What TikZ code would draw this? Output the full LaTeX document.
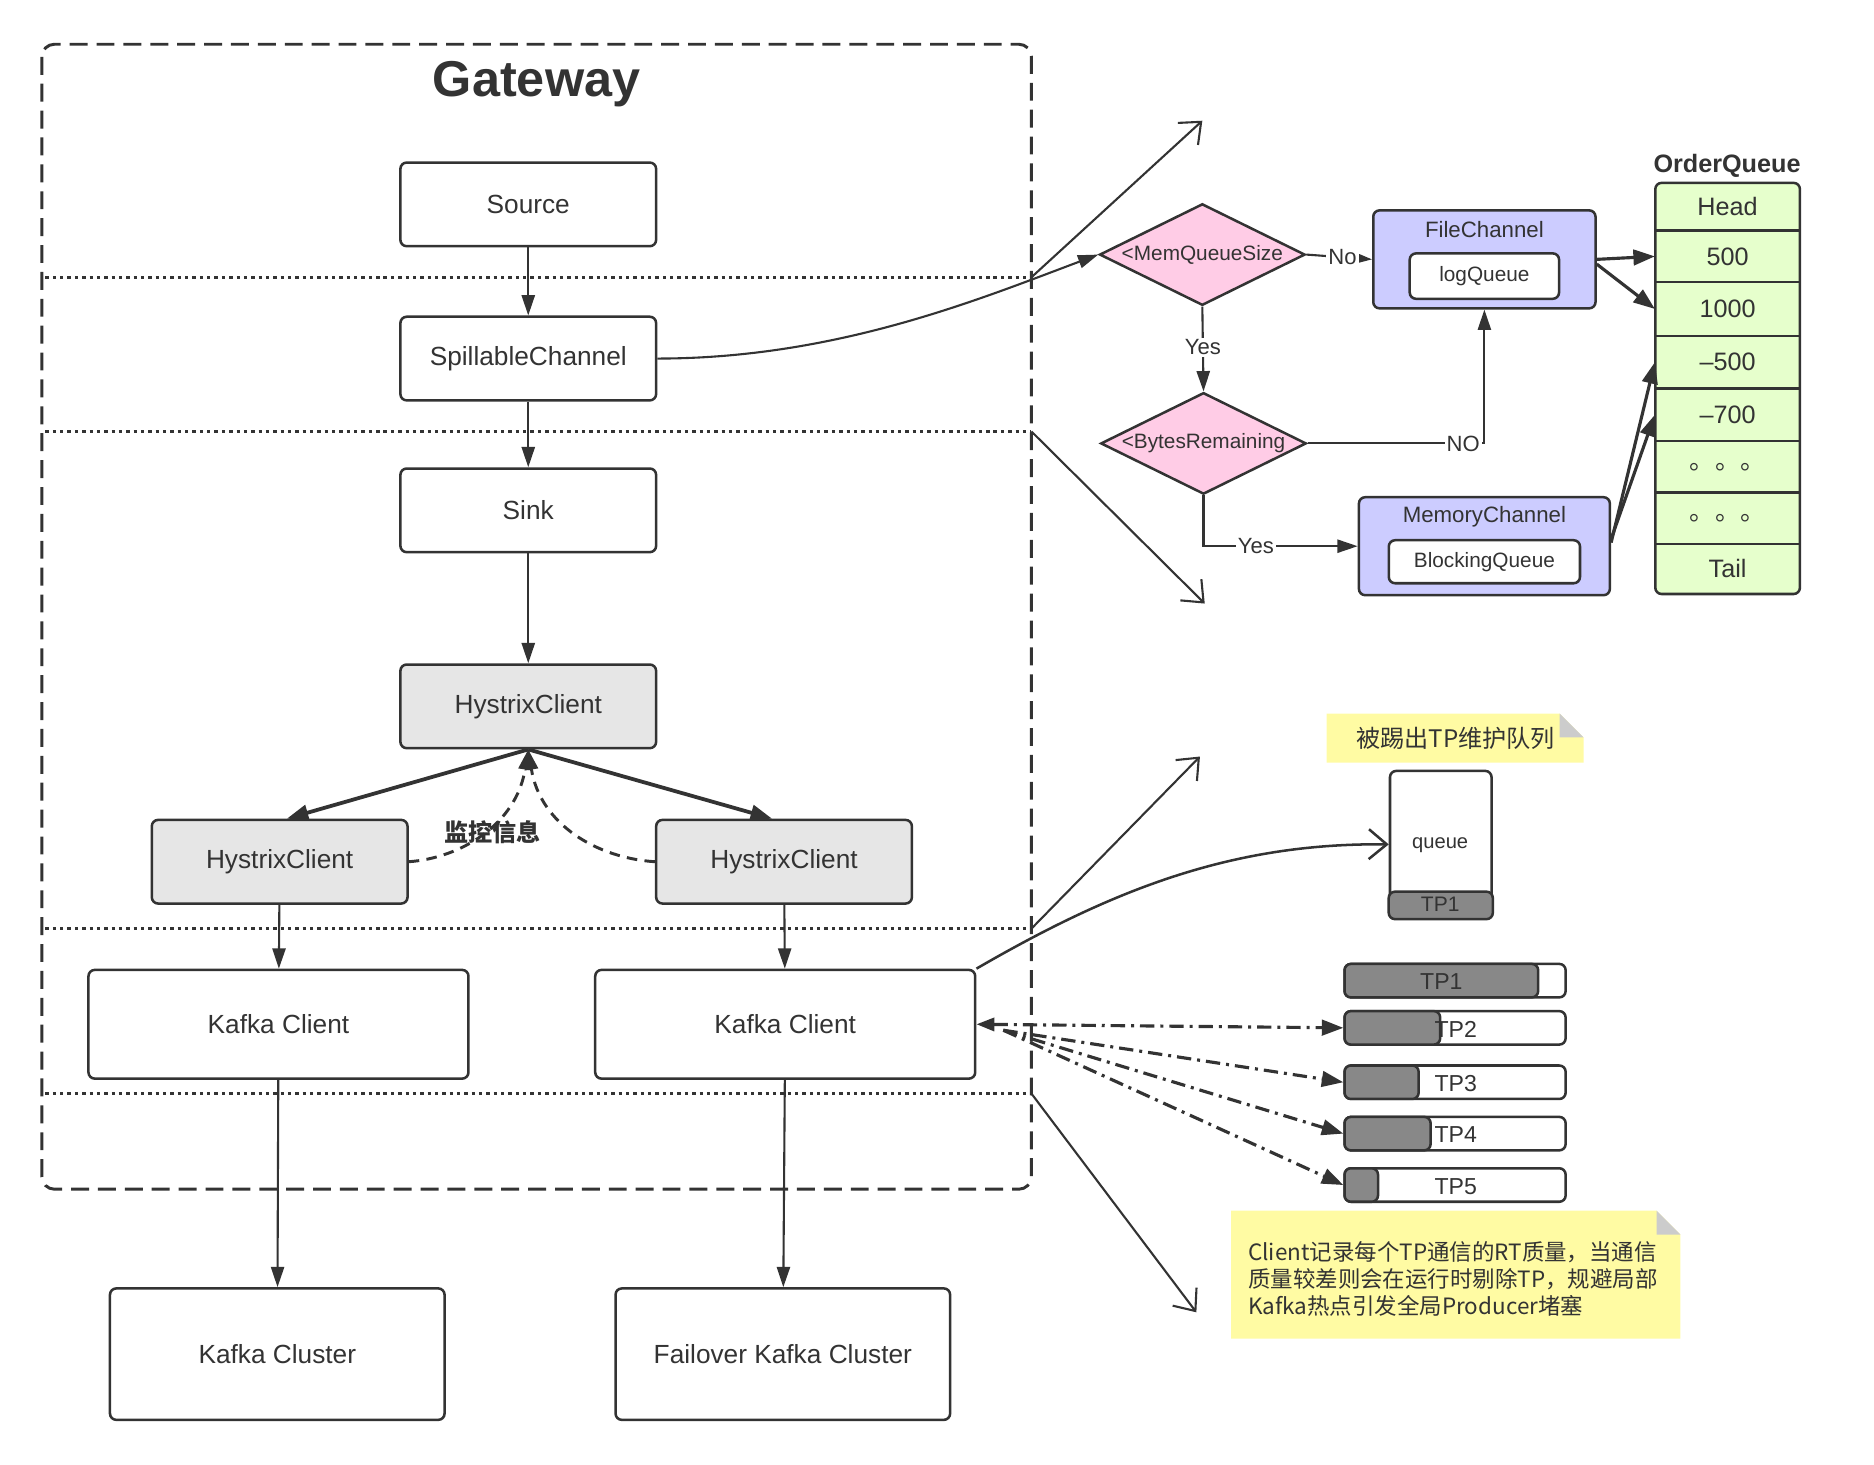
\documentclass[tikz,border=0pt]{standalone}
\usepackage{fontspec}
\setmainfont{Liberation Sans}
\newfontfamily\cjk{Noto Sans CJK SC}
\usetikzlibrary{shapes.geometric,arrows.meta}

\definecolor{linec}{HTML}{333333}
\definecolor{txtc}{HTML}{333333}
\definecolor{hygray}{HTML}{E6E6E6}
\definecolor{chanblue}{HTML}{CCCCFF}
\definecolor{diampink}{HTML}{FFCCE6}
\definecolor{qgreen}{HTML}{E6FFCC}
\definecolor{notey}{HTML}{FFFBA3}
\definecolor{foldgray}{HTML}{CCCCCC}
\definecolor{tpgray}{HTML}{888888}

\newcommand{\fsz}[1]{\fontsize{#1}{#1}\selectfont}
% yellow note with a folded corner, corners given in picture units
\newcommand{\notebox}[4]{%
  \fill[notey] (#1,#2) -- ({#3-20},#2) -- (#3,{#2+20}) -- (#3,#4) -- (#1,#4) -- cycle;
  \fill[foldgray] ({#3-20},#2) -- (#3,{#2+20}) -- ({#3-20},{#2+20}) -- cycle;}

\tikzset{
  box/.style={draw=linec, line width=1.2pt, rounded corners=3pt, fill=white, text=txtc,
    font=\fsz{12.5}, minimum width=4.28cm, minimum height=1.4cm, inner sep=0pt},
  hybox/.style={box, fill=hygray},
  kbox/.style={box, minimum width=6.36cm, minimum height=1.82cm},
  clbox/.style={box, minimum width=5.6cm, minimum height=2.2cm},
  arr/.style={draw=linec, line width=1pt, -{Triangle[length=0.34cm,width=0.22cm]}},
  fatarr/.style={draw=linec, line width=1.8pt, -{Triangle[length=0.36cm,width=0.26cm]}},
  zoomarr/.style={draw=linec, line width=1pt, -{Straight Barb[length=0.3cm,width=0.5cm]}},
  cond/.style={diamond, draw=linec, line width=1.2pt, fill=diampink, minimum width=3.44cm,
    minimum height=1.7cm, inner sep=0pt},
  condtxt/.style={text=txtc, font=\fsz{9.9}, inner sep=0pt},
  chan/.style={draw=linec, line width=1.2pt, rounded corners=3pt, fill=chanblue,
    minimum width=3.72cm, minimum height=1.64cm},
  chantitle/.style={text=txtc, font=\fsz{10.6}, inner sep=0pt},
  inbox/.style={draw=linec, line width=1.2pt, rounded corners=3pt, fill=white, text=txtc,
    font=\fsz{9.9}, minimum width=2.5cm, minimum height=0.76cm, inner sep=0pt},
  lbl/.style={fill=white, text=txtc, font=\fsz{10.5}, inner sep=1pt},
  cell/.style={text=txtc, font=\fsz{12}, minimum width=2.42cm, inner sep=0pt},
  tpbar/.style={draw=linec, line width=1.2pt, rounded corners=3pt, fill=white,
    minimum width=3.7cm, minimum height=0.56cm, inner sep=0pt},
  tpfill/.style={draw=linec, line width=1.2pt, rounded corners=3pt, fill=tpgray},
  tptxt/.style={text=txtc, font=\fsz{11}, inner sep=0pt},
  ddarr/.style={draw=linec, line width=1.5pt, dash pattern=on 0.24cm off 0.1cm on 0.05cm off 0.1cm,
    -{Triangle[length=0.36cm,width=0.26cm]}},
  mondash/.style={arr, line width=1.4pt, dash pattern=on 5pt off 3.5pt},
  gw/.style={draw=linec, line width=1.4pt, dash pattern=on 0.3cm off 0.15cm, rounded corners=6pt},
  sep/.style={draw=linec, line width=1.2pt, dash pattern=on 1.6pt off 1.9pt},
}

\begin{document}
\begin{tikzpicture}[x=0.02cm, y=-0.02cm]
\useasboundingbox (0,0) rectangle (1568,1225);

% gateway frame
\draw[gw] (35,37) rectangle (863,995);
\node[text=txtc, font=\bfseries\fsz{24}, anchor=base] (title) at (449,81) {Gateway};
\foreach \y in {232,361,777,915}
  \draw[sep] (38,\y) -- (863,\y);

\node[box] (src) at (442,171) {Source};
\node[box] (spill) at (442,300) {SpillableChannel};
\node[box] (sink) at (442,427) {Sink};
\node[hybox] (hyt) at (442,591) {HystrixClient};
\node[hybox] (hyl) at (234,721) {HystrixClient};
\node[hybox] (hyr) at (656,721) {HystrixClient};
\node[kbox] (kcl) at (233,857) {Kafka Client};
\node[kbox] (kcr) at (657,857) {Kafka Client};
\node[clbox] (kcluster) at (232,1133) {Kafka Cluster};
\node[clbox] (fkcluster) at (655,1133) {Failover Kafka Cluster};

\draw[arr] (src) -- (spill);
\draw[arr] (spill) -- (sink);
\draw[arr] (sink) -- (hyt);
\draw[fatarr] (hyt.south) -- ([xshift=0.12cm]hyl.north);
\draw[fatarr] (hyt.south) -- ([xshift=-0.2cm]hyr.north);
\draw[mondash] (hyl.east) .. controls (385,718) and (432,690) .. (hyt.south);
\draw[mondash] (hyr.west) .. controls (500,718) and (452,690) .. (hyt.south);
\node[text=txtc, font=\cjk\bfseries\fsz{11.5}] (mon) at (412,696) {监控信息};
\draw[arr] (hyl) -- (kcl);
\draw[arr] (hyr) -- (kcr);
\draw[arr] (kcl) -- (kcluster);
\draw[arr] (kcr) -- (fkcluster);

% zoom arrows
\coordinate (z1s) at (863,232);  \coordinate (z1e) at (1006,101);
\coordinate (z2s) at (863,361);  \coordinate (z2e) at (1008,505);
\coordinate (z3s) at (863,777);  \coordinate (z3e) at (1004,633);
\coordinate (z4s) at (863,915);  \coordinate (z4e) at (1001,1098);
\foreach \i in {1,...,4}
  \draw[zoomarr] (z\i s) -- (z\i e);

% channel selection
\node[cond] (mem) at (1006,213) {};
\node[condtxt] at (mem) {<MemQueueSize};
\node[cond] (bytes) at (1007,371) {};
\node[condtxt] at (bytes) {<BytesRemaining};
\node[chan] (fc) at (1242,217) {};
\node[chantitle] at (1242,192) {FileChannel};
\node[inbox] (logq) at (1242,231) {logQueue};
\node[chan, minimum width=4.2cm] (mc) at (1242,457) {};
\node[chantitle] at (1242,432) {MemoryChannel};
\node[inbox, minimum width=3.2cm, minimum height=0.72cm] (blq) at (1242,470) {BlockingQueue};

\draw[arr] (spill.east) .. controls (700,300) and (820,250) .. (mem.west);
\draw[arr] (mem.east) -- node[lbl, pos=0.55] {No} (fc.west);
\draw[arr] (mem.south) -- node[lbl, pos=0.48] {Yes} (bytes.north);
\draw[arr] (bytes.east) -| node[lbl, pos=0.44] {NO} (fc.south);
\draw[arr] (bytes.south) |- node[lbl, pos=0.67] {Yes} (mc.west);

% order queue
\node[text=txtc, font=\bfseries\fsz{12}] (oqt) at (1445,139) {OrderQueue};
\draw[draw=linec, line width=1.2pt, fill=qgreen, rounded corners=3pt] (1385,153) rectangle (1506,497);
\foreach \y in {193,236,281,325,369,412,455}
  \draw[draw=linec, line width=1.2pt] (1385,\y) -- (1506,\y);
\foreach \t/\a/\b [count=\i] in {Head/153/193, 500/193/236, 1000/236/281, –500/281/325,
    –700/325/369, {\cjk 。。。}/369/412, {\cjk 。。。}/412/455, Tail/455/497}
  \node[cell, minimum height={(\b-\a)*0.02cm}] (q\i) at (1445.5,{(\a+\b)/2}) {\t};
\draw[fatarr, line width=1.5pt] (fc.east) -- (q2.west);
\draw[fatarr, line width=1.5pt] ([yshift=-0.08cm]fc.east) -- (q3.west);
\draw[fatarr, line width=1.5pt] ([yshift=0.06cm]mc.east) -- (q4.west);
\draw[fatarr, line width=1.5pt] ([yshift=0.12cm]mc.east) -- (q5.west);

% kicked out queue
\notebox{1110}{597}{1325}{638}
\node[text=txtc, font=\cjk\fsz{11.5}] (n1) at (1218,618) {被踢出TP维护队列};
\node[draw=linec, line width=1.2pt, rounded corners=3pt, fill=white, minimum width=1.7cm,
  minimum height=2.46cm] (que) at (1205.5,706.5) {};
\filldraw[tpfill] (que.south west) rectangle ([yshift=0.46cm]que.south east);
\node[text=txtc, font=\fsz{9.6}] at (1205,707) {queue};
\node[tptxt, font=\fsz{10}] at (1205,757) {TP1};
\draw[zoomarr, line width=1.2pt] (kcr.north east) .. controls (930,745) and (1030,705) .. (que.west);

% partitions
\foreach \n/\y/\g/\lx in {1/820.5/1287/1206, 2/860/1205/1218, 3/905.5/1187/1218,
    4/948.5/1197/1218, 5/991.5/1153/1218} {
  \node[tpbar] (tp\n) at (1217.5,\y) {};
  \filldraw[tpfill] (1125,{\y-14}) rectangle (\g,{\y+14});
  \node[tptxt] at (\lx,{\y+1}) {TP\n};
}
\draw[ddarr, {Triangle[length=0.3cm,width=0.22cm]}-{Triangle[length=0.36cm,width=0.26cm]}] (kcr.east) -- (tp2.west);
\foreach \n in {3,4,5}
  \draw[ddarr] ([xshift=0.45cm,yshift=-0.1cm]kcr.east) -- (tp\n.west);

\notebox{1030}{1013}{1406}{1120}
\node[text=txtc, font=\cjk\fontsize{10.7}{12.9}\selectfont, align=left, anchor=west, inner sep=0pt]
  (n2) at (1044,1070) {Client记录每个TP通信的RT质量，当通信\\质量较差则会在运行时剔除TP，规避局部\\Kafka热点引发全局Producer堵塞};
\end{tikzpicture}
\end{document}
